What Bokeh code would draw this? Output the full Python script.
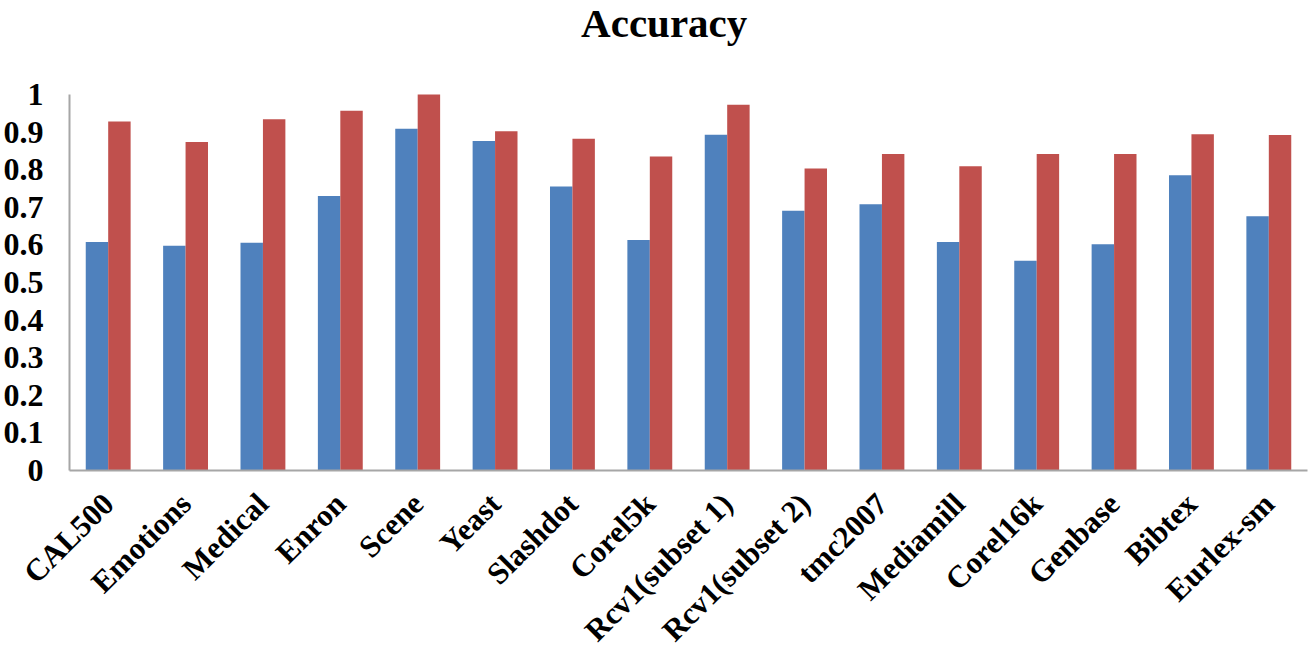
import math
from bokeh.plotting import figure
from bokeh.models import FactorRange, Range1d, ColumnDataSource, FixedTicker
from bokeh.core.properties import value
from bokeh.transform import dodge
from bokeh.embed import file_html
from bokeh.resources import INLINE

categories = ["CAL500", "Emotions", "Medical", "Enron", "Scene", "Yeast", "Slashdot",
              "Corel5k", "Rcv1(subset 1)", "Rcv1(subset 2)", "tmc2007", "Mediamill",
              "Corel16k", "Genbase", "Bibtex", "Eurlex-sm"]
series_blue = [0.608, 0.598, 0.606, 0.730, 0.909, 0.876, 0.755, 0.613, 0.893, 0.691,
               0.708, 0.608, 0.558, 0.602, 0.785, 0.676]
series_red = [0.928, 0.874, 0.934, 0.957, 1.000, 0.902, 0.882, 0.835, 0.973, 0.803,
              0.842, 0.809, 0.842, 0.842, 0.894, 0.892]
y_ticks = [0, 0.1, 0.2, 0.3, 0.4, 0.5, 0.6, 0.7, 0.8, 0.9, 1]
y_tick_labels = ["0", "0.1", "0.2", "0.3", "0.4", "0.5", "0.6", "0.7", "0.8", "0.9", "1"]
title_text = "Accuracy"

source = ColumnDataSource(data=dict(cat=categories, blue=series_blue, red=series_red))

FONT = "Liberation Serif"

# frame extends above 1.0 to host the title; axis line limited to [0, 1]
Y_TOP = 1.25
p = figure(x_range=FactorRange(*categories, range_padding=0), y_range=Range1d(0, Y_TOP),
           frame_width=1238, frame_height=470, output_backend="svg", toolbar_location=None,
           min_border_left=67, min_border_right=1, min_border_top=0, min_border_bottom=0)

p.vbar(x=dodge("cat", -0.145, range=p.x_range), top="blue", width=0.29, source=source,
       fill_color="#4F81BD", line_color=None)
p.vbar(x=dodge("cat", 0.145, range=p.x_range), top="red", width=0.29, source=source,
       fill_color="#C0504D", line_color=None)

# chart title, placed in the headroom above the value axis
p.text(x=[categories[8]], y=[1.19], text=[title_text], x_offset=-63,
       text_align="center", text_baseline="alphabetic",
       text_font=value(FONT), text_font_size="41px", text_font_style="bold",
       text_color="#000000")

p.outline_line_color = None
p.xgrid.grid_line_color = None
p.ygrid.grid_line_color = None

p.yaxis.ticker = FixedTicker(ticks=y_ticks)
p.yaxis.bounds = (0, 1)
p.yaxis.major_label_overrides = {t: l for t, l in zip(y_ticks, y_tick_labels)}
p.yaxis.major_label_text_font = FONT
p.yaxis.major_label_text_font_size = "32px"
p.yaxis.major_label_text_font_style = "bold"
p.yaxis.major_label_text_color = "#000000"
p.yaxis.major_tick_line_color = None
p.yaxis.minor_tick_line_color = None
p.yaxis.major_tick_out = 0
p.yaxis.major_tick_in = 0
p.yaxis.major_label_standoff = 26
p.yaxis.axis_line_color = "#A6A6A6"
p.yaxis.axis_line_width = 2

p.xaxis.major_label_orientation = math.pi / 4
p.xaxis.major_label_text_font = FONT
p.xaxis.major_label_text_font_size = "31px"
p.xaxis.major_label_text_font_style = "bold"
p.xaxis.major_label_text_color = "#000000"
p.xaxis.major_tick_line_color = None
p.xaxis.minor_tick_line_color = None
p.xaxis.major_tick_out = 0
p.xaxis.major_tick_in = 0
p.xaxis.major_label_standoff = 28
p.xaxis.axis_line_color = "#A6A6A6"
p.xaxis.axis_line_width = 2

open("out.html", "w").write(file_html(p, INLINE))
